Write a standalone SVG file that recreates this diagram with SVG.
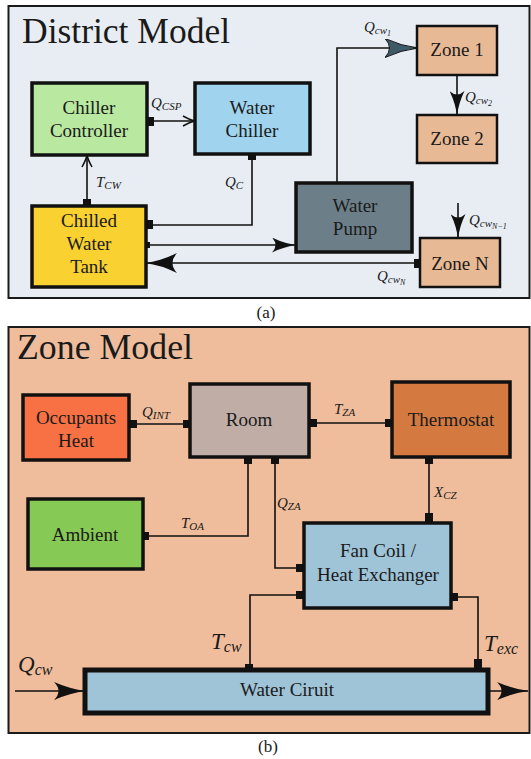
<svg xmlns="http://www.w3.org/2000/svg" width="531" height="759" viewBox="0 0 531 759" font-family="'Liberation Serif', 'DejaVu Serif', serif">
<style>
text{font-family:'Liberation Serif','DejaVu Serif',serif;fill:#1a1a1a}
.t{font-size:19px;text-anchor:middle}
.title{font-size:36px}
.cap{font-size:17px;text-anchor:middle}
.m{font-size:15px;font-style:italic}
.s{font-size:11px;font-style:italic}
.ss{font-size:8px;font-style:italic}
.M{font-size:23px;font-style:italic}
.S{font-size:16px;font-style:italic}
.box{stroke:#111;stroke-width:3.5}
.thin{stroke:#111;stroke-width:2.5}
.port{fill:#111}
.c path{fill:none;stroke:#111;stroke-width:1.6}
</style>
<defs>
<marker id="open" markerUnits="userSpaceOnUse" markerWidth="14" markerHeight="12" viewBox="0 0 14 12" refX="13" refY="6" orient="auto">
<path d="M1,1 Q8,5 13,6 Q8,7 1,11" fill="none" stroke="#111" stroke-width="1.5"/>
</marker>
<marker id="big" markerUnits="userSpaceOnUse" markerWidth="32" markerHeight="20" viewBox="0 0 32 20" refX="31" refY="10" orient="auto">
<path d="M0,0 Q16,8 32,10 Q16,12 0,20 Q9,10 0,0Z" fill="#111"/>
</marker>
<marker id="mid" markerUnits="userSpaceOnUse" markerWidth="25" markerHeight="15" viewBox="0 0 25 15" refX="24" refY="7.5" orient="auto">
<path d="M0,0 Q12,6 25,7.5 Q12,9 0,15 Q7,7.5 0,0Z" fill="#111"/>
</marker>
<marker id="slate" markerUnits="userSpaceOnUse" markerWidth="33" markerHeight="19" viewBox="0 0 33 19" refX="32" refY="9.5" orient="auto">
<path d="M0,0 Q16,7.5 33,9.5 Q16,11.5 0,19 Q9,9.5 0,0Z" fill="#3e5a68" stroke="#111" stroke-width="1"/>
</marker>
<marker id="io" markerUnits="userSpaceOnUse" markerWidth="32" markerHeight="18" viewBox="0 0 32 18" refX="31" refY="9" orient="auto">
<path d="M0,0 Q16,7 32,9 Q16,11 0,18 Q9,9 0,0Z" fill="#111"/>
</marker>
</defs>

<!-- Panel (a) -->
<rect x="8.5" y="6" width="521" height="292" fill="#e8edf4" stroke="#1a1a1a" stroke-width="2"/>
<text class="title" x="22" y="43" textLength="208" lengthAdjust="spacingAndGlyphs">District Model</text>
<text class="cap" x="266" y="318">(a)</text>

<g class="c" id="connectors-a">
<path d="M153,121 H195" marker-end="url(#open)"/>
<path d="M87,200 V155" marker-end="url(#open)"/>
<path d="M252,160 V225 H152"/>
<path d="M150,245 H296" marker-end="url(#mid)"/>
<path d="M414,263 H146" marker-end="url(#big)"/>
<path d="M337,183 V48 H417" marker-end="url(#slate)"/>
<path d="M457,75 V115" marker-end="url(#mid)"/>
<path d="M458,203 V238" marker-end="url(#mid)"/>
<rect class="port" x="147" y="117" width="7" height="9"/>
<rect class="port" x="248" y="153" width="8" height="7"/>
<rect class="port" x="83" y="199" width="8" height="7"/>
<rect class="port" x="146" y="220" width="7" height="9"/>
<rect class="port" x="146" y="242" width="4" height="6"/>
<rect class="port" x="414" y="259" width="7" height="9"/>
<text class="m" x="151" y="108">Q<tspan class="s" dy="2">CSP</tspan></text>
<text class="m" x="96" y="187">T<tspan class="s" dy="2">CW</tspan></text>
<text class="m" x="225" y="187">Q<tspan class="s" dy="2">C</tspan></text>
<text class="m" x="364" y="32">Q<tspan class="s" dy="2">cw</tspan><tspan class="ss" dy="2">1</tspan></text>
<text class="m" x="465" y="102">Q<tspan class="s" dy="2">cw</tspan><tspan class="ss" dy="2">2</tspan></text>
<text class="m" x="469" y="225">Q<tspan class="s" dy="2">cw</tspan><tspan class="ss" dy="2">N−1</tspan></text>
<text class="m" x="377" y="281">Q<tspan class="s" dy="2">cw</tspan><tspan class="ss" dy="2">N</tspan></text>
</g>

<g id="chiller-controller">
<rect class="box" x="32" y="83" width="115" height="72" fill="#b9e8a0"/>
<text class="t" x="89" y="114">Chiller</text>
<text class="t" x="89" y="137">Controller</text>
</g>
<g id="water-chiller">
<rect class="box" x="195" y="83" width="115" height="71" fill="#a0d4ee"/>
<text class="t" x="252" y="114">Water</text>
<text class="t" x="252" y="137">Chiller</text>
</g>
<g id="chilled-water-tank">
<rect class="box" x="32" y="206" width="114" height="81" fill="#f9d131"/>
<text class="t" x="89" y="227">Chilled</text>
<text class="t" x="89" y="250">Water</text>
<text class="t" x="89" y="273">Tank</text>
</g>
<g id="water-pump">
<rect class="box" x="296" y="183" width="116" height="69" fill="#6c7f88"/>
<text class="t" x="355" y="212">Water</text>
<text class="t" x="355" y="235">Pump</text>
</g>
<g id="zone-1">
<rect class="thin" x="417" y="26" width="80" height="49" fill="#e8b995"/>
<text class="t" x="457" y="56">Zone 1</text>
</g>
<g id="zone-2">
<rect class="thin" x="417" y="115" width="80" height="48" fill="#e8b995"/>
<text class="t" x="457" y="145">Zone 2</text>
</g>
<g id="zone-n">
<rect class="thin" x="420" y="238" width="80" height="49" fill="#e8b995"/>
<text class="t" x="460" y="270">Zone N</text>
</g>

<!-- Panel (b) -->
<rect x="8.5" y="327" width="521" height="406" fill="#efbd9b" stroke="#1a1a1a" stroke-width="2"/>
<text class="title" x="17" y="359" textLength="176" lengthAdjust="spacingAndGlyphs">Zone Model</text>
<text class="cap" x="268" y="752">(b)</text>

<g class="c" id="connectors-b">
<path d="M137,424 H183"/>
<path d="M317,423 H385"/>
<path d="M429,464 V513"/>
<path d="M248,464 V536 H149"/>
<path d="M275,464 V568 H296"/>
<path d="M296,595 H250 V664"/>
<path d="M458,597 H478 V659"/>
<path d="M15,691 H85" marker-end="url(#io)"/>
<path d="M488,691 H528" marker-end="url(#io)"/>
<rect class="port" x="129" y="420" width="8" height="8"/>
<rect class="port" x="183" y="420" width="7" height="8"/>
<rect class="port" x="309" y="419" width="8" height="8"/>
<rect class="port" x="385" y="419" width="7" height="8"/>
<rect class="port" x="244" y="457" width="8" height="7"/>
<rect class="port" x="271" y="457" width="8" height="7"/>
<rect class="port" x="425" y="457" width="8" height="7"/>
<rect class="port" x="425" y="513" width="8" height="10"/>
<rect class="port" x="143" y="532" width="6" height="8"/>
<rect class="port" x="296" y="564" width="8" height="8"/>
<rect class="port" x="296" y="591" width="8" height="8"/>
<rect class="port" x="451" y="593" width="7" height="8"/>
<rect class="port" x="245" y="664" width="8" height="6"/>
<rect class="port" x="474" y="659" width="8" height="11"/>
<text class="m" x="142" y="417">Q<tspan class="s" dy="2">INT</tspan></text>
<text class="m" x="334" y="414">T<tspan class="s" dy="2">ZA</tspan></text>
<text class="m" x="434" y="497">X<tspan class="s" dy="2">CZ</tspan></text>
<text class="m" x="181" y="528">T<tspan class="s" dy="2">OA</tspan></text>
<text class="m" x="277" y="508">Q<tspan class="s" dy="2">ZA</tspan></text>
<text class="M" x="211" y="649">T<tspan class="S" dy="3">cw</tspan></text>
<text class="M" x="484" y="651">T<tspan class="S" dy="3">exc</tspan></text>
<text class="M" x="18" y="672">Q<tspan class="S" dy="3">cw</tspan></text>
</g>

<g id="occupants-heat">
<rect class="box" x="23" y="395" width="106" height="65" fill="#f77144"/>
<text class="t" x="76" y="424">Occupants</text>
<text class="t" x="76" y="447">Heat</text>
</g>
<g id="room">
<rect class="box" x="190" y="384" width="119" height="73" fill="#c0aea6"/>
<text class="t" x="249" y="426">Room</text>
</g>
<g id="thermostat">
<rect class="box" x="392" y="382" width="118" height="75" fill="#d47a41"/>
<text class="t" x="451" y="426">Thermostat</text>
</g>
<g id="ambient">
<rect class="box" x="28" y="499" width="115" height="70" fill="#87c955"/>
<text class="t" x="85" y="541">Ambient</text>
</g>
<g id="fan-coil">
<rect class="box" x="304" y="523" width="147" height="85" fill="#9fc3d7"/>
<text class="t" x="378" y="557">Fan Coil /</text>
<text class="t" x="378" y="581">Heat Exchanger</text>
</g>
<g id="water-circuit">
<rect x="85" y="670" width="403" height="43" fill="#9fc3d7" stroke="#111" stroke-width="5"/>
<text class="t" x="287" y="696">Water Ciruit</text>
</g>
</svg>
